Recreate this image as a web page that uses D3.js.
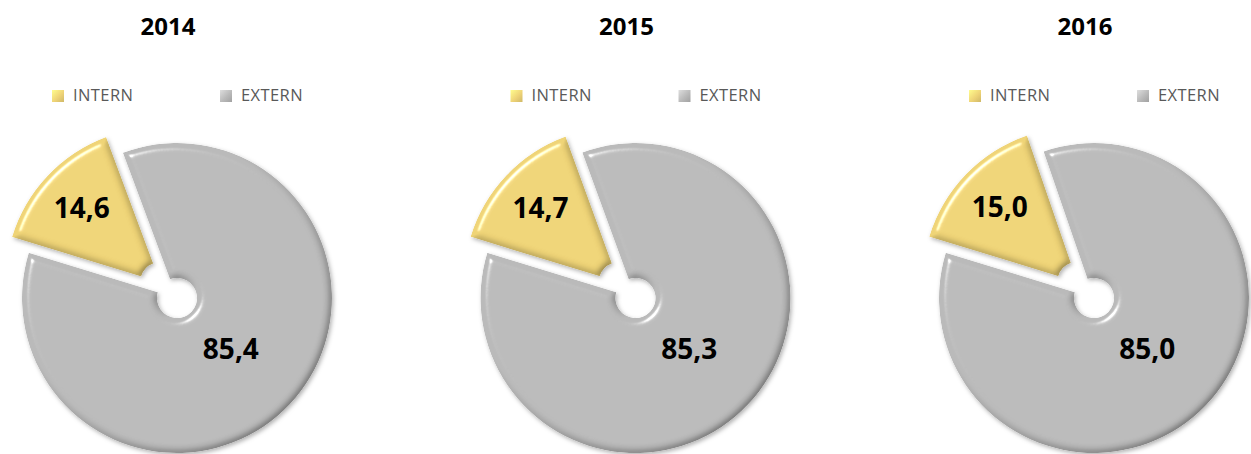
<!DOCTYPE html>
<html>
<head>
<meta charset="utf-8">
<script src="https://cdn.jsdelivr.net/npm/d3@7"></script>
<style>
  body { margin: 0; background: #fff; }
  text { font-family: "Open Sans", sans-serif; }
</style>
</head>
<body>
<div id="wrapper"></div>
<script>
// data
const years = ["2014", "2015", "2016"]
const categories = ["INTERN", "EXTERN"]
const internValues = [14.6, 14.7, 15.0]
const externValues = [85.4, 85.3, 85.0]
const colors = ["#efd477", "#bababa"]

function drawChart() {
  const width = 1251
  const height = 454
  const dimensions = {
    radius: 155,
    innerRadius: 20,
    explode: 23,
    centerY: 298,
    firstCenterX: 177,
    step: 458.5,
  }

  const svg = d3.select("#wrapper")
    .append("svg")
      .attr("width", width)
      .attr("height", height)

  const defs = svg.append("defs")

  // soft bevel, roughly like the office "soft round" effect
  const bevel = defs.append("filter")
    .attr("id", "bevel")
    .attr("x", "-10%").attr("y", "-10%")
    .attr("width", "125%").attr("height", "125%")
  bevel.append("feGaussianBlur")
    .attr("in", "SourceAlpha").attr("stdDeviation", 3.5).attr("result", "blur")
  const diff = bevel.append("feDiffuseLighting")
    .attr("in", "blur").attr("surfaceScale", 3)
    .attr("diffuseConstant", 1 / Math.sin(55 * Math.PI / 180))
    .attr("lighting-color", "#fff").attr("result", "diff")
  diff.append("feDistantLight").attr("azimuth", 225).attr("elevation", 55)
  const spec = bevel.append("feSpecularLighting")
    .attr("in", "blur").attr("surfaceScale", 4)
    .attr("specularConstant", 1).attr("specularExponent", 90)
    .attr("lighting-color", "#fff").attr("result", "spec")
  spec.append("feDistantLight").attr("azimuth", 225).attr("elevation", 55)
  bevel.append("feComposite")
    .attr("in", "spec").attr("in2", "SourceAlpha").attr("operator", "in").attr("result", "specIn")
  bevel.append("feComposite")
    .attr("in", "SourceGraphic").attr("in2", "diff").attr("operator", "arithmetic")
    .attr("k1", 1).attr("k2", 0).attr("k3", 0).attr("k4", 0).attr("result", "lit")
  bevel.append("feComposite")
    .attr("in", "lit").attr("in2", "specIn").attr("operator", "arithmetic")
    .attr("k1", 0).attr("k2", 1).attr("k3", 0.8).attr("k4", 0).attr("result", "bev")
  bevel.append("feComposite")
    .attr("in", "bev").attr("in2", "SourceAlpha").attr("operator", "in").attr("result", "shape")
  bevel.append("feDropShadow")
    .attr("in", "shape").attr("dx", 1.5).attr("dy", 2).attr("stdDeviation", 2)
    .attr("flood-color", "#000").attr("flood-opacity", 0.3)

  const markerGradients = colors.map((c, i) => {
    const g = defs.append("linearGradient")
      .attr("id", `marker-${i}`)
      .attr("x1", 0).attr("y1", 0).attr("x2", 1).attr("y2", 1)
    g.append("stop").attr("offset", "0%").attr("stop-color", d3.color(c).brighter(0.5))
    g.append("stop").attr("offset", "55%").attr("stop-color", c)
    g.append("stop").attr("offset", "100%").attr("stop-color", d3.color(c).darker(0.4))
    return `url(#marker-${i})`
  })

  const pie = d3.pie()
    .sort(null)
    .value(d => d.value)
    .startAngle(287 * Math.PI / 180)
    .endAngle((287 + 360) * Math.PI / 180)

  const arc = d3.arc()
    .innerRadius(dimensions.innerRadius)
    .outerRadius(dimensions.radius)

  const locale = d3.formatLocale({ decimal: ",", thousands: ".", grouping: [3], currency: ["", "€"] })
  const fmt = locale.format(".1f")

  const labelRadius = [108, 74]

  years.forEach((year, yi) => {
    const cx = dimensions.firstCenterX + yi * dimensions.step
    const cy = dimensions.centerY
    const data = categories.map((cat, ci) => ({
      category: cat,
      value: ci === 0 ? internValues[yi] : externValues[yi],
      index: ci,
    }))
    const arcs = pie(data)

    // title
    svg.append("text")
      .attr("x", cx - 9)
      .attr("y", 35)
      .attr("text-anchor", "middle")
      .style("font-size", "24px")
      .style("font-weight", 700)
      .style("fill", "#000")
      .text(year)

    // legend
    const legendX = [cx - 125, cx + 43]
    categories.forEach((cat, ci) => {
      svg.append("rect")
        .attr("x", legendX[ci])
        .attr("y", 90)
        .attr("width", 12)
        .attr("height", 12)
        .attr("fill", markerGradients[ci])
      svg.append("text")
        .attr("x", legendX[ci] + 21)
        .attr("y", 101)
        .style("font-size", "16.5px")
        .style("letter-spacing", "0.4px")
        .style("fill", "#595959")
        .text(cat)
    })

    const offset = d => {
      if (d.data.index !== 0) return [0, 0]
      const mid = (d.startAngle + d.endAngle) / 2
      return [Math.sin(mid) * dimensions.explode, -Math.cos(mid) * dimensions.explode]
    }

    const pieG = svg.append("g")
      .attr("transform", `translate(${cx},${cy})`)

    pieG.selectAll("path")
      .data(arcs)
      .join("path")
        .attr("d", arc)
        .attr("transform", d => `translate(${offset(d)})`)
        .attr("fill", d => colors[d.data.index])
        .attr("filter", "url(#bevel)")

    pieG.selectAll("text")
      .data(arcs)
      .join("text")
        .attr("x", d => {
          const mid = (d.startAngle + d.endAngle) / 2
          return Math.sin(mid) * labelRadius[d.data.index] + offset(d)[0]
        })
        .attr("y", d => {
          const mid = (d.startAngle + d.endAngle) / 2
          return -Math.cos(mid) * labelRadius[d.data.index] + offset(d)[1]
        })
        .attr("dy", "0.36em")
        .attr("text-anchor", "middle")
        .style("font-size", "28px")
        .style("font-weight", 700)
        .style("fill", "#000")
        .text(d => fmt(d.data.value))
  })
}
drawChart()
</script>
</body>
</html>
